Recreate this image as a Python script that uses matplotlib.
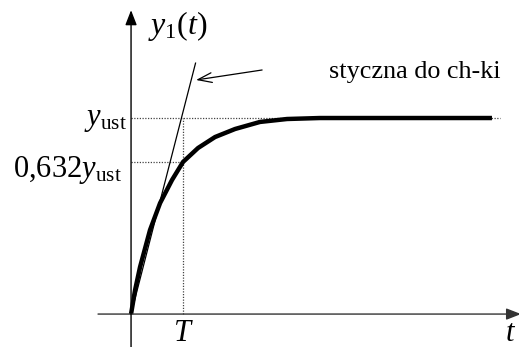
import matplotlib
matplotlib.use("Agg")
import matplotlib.pyplot as plt

plt.rcParams['font.family'] = ['serif']
plt.rcParams['font.serif'] = ['Liberation Serif', 'DejaVu Serif']
plt.rcParams['mathtext.fontset'] = 'custom'
plt.rcParams['mathtext.rm'] = 'Liberation Serif'
plt.rcParams['mathtext.it'] = 'Liberation Serif:italic'

# step response (t in units of T, y in units of y_ust)
t_vals = [0.0, 0.077, 0.173, 0.365, 0.558, 0.788, 1.0, 1.288, 1.615, 2.0, 2.48, 3.0, 3.63, 4.5, 6.94]
y_vals = [0.0, 0.122, 0.240, 0.429, 0.566, 0.684, 0.776, 0.847, 0.903, 0.944, 0.980, 0.995, 1.0, 1.0, 1.0]

T_mark = 1.0
y_ust = 1.0
y_mark = 0.776          # level drawn for 0,632 y_ust
tangent_t = [0.0, 1.24]
tangent_y = [0.0, 1.28]
dotted_end = 7.1

fig = plt.figure(figsize=(5.19, 3.47), dpi=100)
ax = fig.add_axes([0, 0, 1, 1])
ax.set_xlim(-2.52, 7.46)
ax.set_ylim(-0.168, 1.602)
ax.axis('off')

# axes with arrows
ax.annotate('', xy=(7.50, 0), xytext=(-0.635, 0), annotation_clip=False,
            arrowprops=dict(arrowstyle='-|>,head_length=0.9,head_width=0.35', color='#333333', lw=1.0,
                            shrinkA=0, shrinkB=0))
ax.annotate('', xy=(0, 1.55), xytext=(0, -0.2), annotation_clip=False,
            arrowprops=dict(arrowstyle='-|>,head_length=0.9,head_width=0.35', color='black', lw=1.0,
                            shrinkA=0, shrinkB=0))

# dotted guide lines
dot = dict(color='#444444', lw=0.9, ls=(0, (1, 1.2)))
ax.plot([0, dotted_end], [y_ust, y_ust], **dot)
ax.plot([0, T_mark], [y_mark, y_mark], **dot)
ax.plot([T_mark, T_mark], [0, y_ust], **dot)

# tangent
ax.plot(tangent_t, tangent_y, color='black', lw=0.9)

# response curve
ax.plot(t_vals, y_vals, color='black', lw=3.2, solid_joinstyle='round', solid_capstyle='butt')

# pointer arrow
ax.annotate('', xy=(1.25, 1.194), xytext=(2.52, 1.245), annotation_clip=False,
            arrowprops=dict(arrowstyle='->,head_length=1.0,head_width=0.35', color='black', lw=0.9,
                            shrinkA=0, shrinkB=0))

# texts
ax.text(0.33, 1.47, r'$y_1(t)$', fontsize=23, ha='left', va='center')
ax.text(3.81, 1.205, 'styczna do ch-ki', fontsize=18.8, ha='left', va='baseline')
ax.text(-0.08, 0.965, r'$y_{\mathrm{ust}}$', fontsize=22, ha='right', va='baseline')
ax.text(-0.17, 0.70, r'0,632$y_{\mathrm{ust}}$', fontsize=22, ha='right', va='baseline')
ax.text(T_mark, -0.135, r'$T$', fontsize=22, ha='center', va='baseline')
ax.text(7.30, -0.135, r'$t$', fontsize=22, ha='center', va='baseline')

fig.savefig('out.png', dpi=100)
